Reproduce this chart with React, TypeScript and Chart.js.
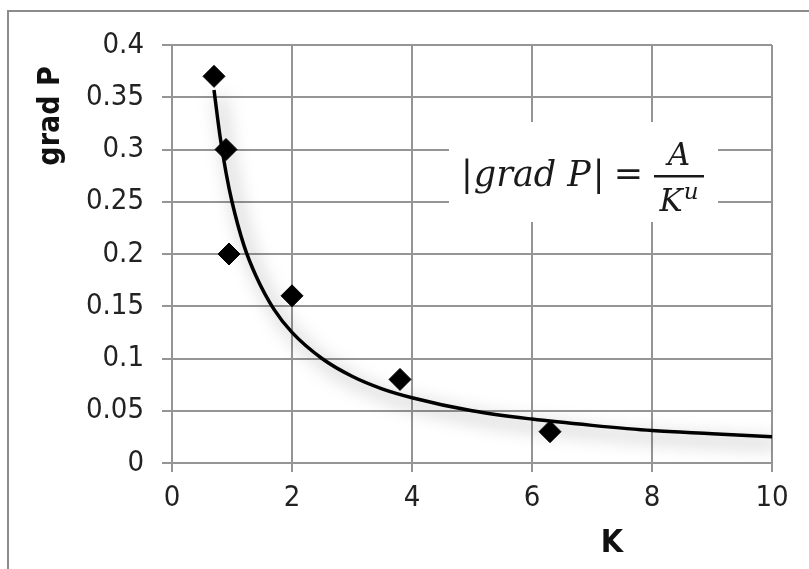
import React, { useEffect, useRef } from 'react';
import { Chart, registerables } from 'chart.js';

Chart.register(...registerables);

// Measured points (diamonds)
const measuredK = [0.7, 0.9, 0.95, 2.0, 3.8, 6.3];
const measuredP = [0.37, 0.3, 0.2, 0.16, 0.08, 0.03];

// Trend curve
const trendK = [0.7, 0.8, 0.9, 1.0, 1.2, 1.4, 1.7, 2.0, 2.5, 3.0, 3.5, 4, 5, 6, 7, 8, 9, 10];
const trendP = [0.357, 0.313, 0.278, 0.25, 0.208, 0.179, 0.147, 0.125, 0.1, 0.083, 0.071, 0.0625, 0.05, 0.042, 0.036, 0.031, 0.028, 0.025];

const xTicks = [0, 2, 4, 6, 8, 10];
const xTickLabels = ['0', '2', '4', '6', '8', '10'];
const yTicks = [0, 0.05, 0.1, 0.15, 0.2, 0.25, 0.3, 0.35, 0.4];
const yTickLabels = ['0', '0.05', '0.1', '0.15', '0.2', '0.25', '0.3', '0.35', '0.4'];

const xTitle = 'K';
const yTitle = 'grad P';

const TICK_FONT = "'DejaVu Sans Condensed', 'DejaVu Sans', sans-serif";
const GRID = '#959595';

const decorPlugin = {
  id: 'decor',
  beforeDatasetsDraw(chart: any) {
    const ctx = chart.ctx;
    const ca = chart.chartArea;
    // white box behind the equation
    const bx = ca.left + 277, by = ca.top + 77;
    ctx.save();
    ctx.fillStyle = '#ffffff';
    ctx.fillRect(bx, by, 269, 100);
    // equation
    ctx.fillStyle = '#1a1a1a';
    ctx.textBaseline = 'alphabetic';
    ctx.textAlign = 'left';
    const base = ca.top + 141;
    let x = ca.left + 289;
    const up = "35px 'DejaVu Serif', serif";
    const it = "italic 35px 'DejaVu Serif', serif";
    ctx.font = up; ctx.fillText('|', x, base); x += ctx.measureText('|').width + 1;
    ctx.font = it; ctx.fillText('grad P', x, base); x += ctx.measureText('grad P').width + 2;
    ctx.font = up; ctx.fillText('|', x, base); x += ctx.measureText('|').width + 9;
    ctx.fillText('=', x, base - 1); x += ctx.measureText('=').width + 11;
    // fraction
    const fx0 = x, fx1 = x + 50, fc = (fx0 + fx1) / 2;
    ctx.fillRect(fx0, ca.top + 130, fx1 - fx0, 2.5);
    ctx.font = "italic 31px 'DejaVu Serif', serif";
    ctx.textAlign = 'center';
    ctx.fillText('A', fc, ca.top + 120);
    const kw = ctx.measureText('K').width;
    ctx.font = "italic 23px 'DejaVu Serif', serif";
    const uw = ctx.measureText('u').width;
    const start = fc - (kw + uw + 1) / 2;
    ctx.textAlign = 'left';
    ctx.font = "italic 31px 'DejaVu Serif', serif";
    ctx.fillText('K', start, ca.top + 166);
    ctx.font = "italic 23px 'DejaVu Serif', serif";
    ctx.fillText('u', start + kw + 1, ca.top + 154);
    ctx.restore();
  },
  beforeDatasetDraw(chart: any, args: any) {
    if (args.index === 0) {
      const ctx = chart.ctx;
      ctx.save();
      ctx.shadowColor = 'rgba(0,0,0,0.5)';
      ctx.shadowBlur = 18;
      ctx.shadowOffsetX = 6;
      ctx.shadowOffsetY = 7;
    }
  },
  afterDatasetDraw(chart: any, args: any) {
    if (args.index === 0) chart.ctx.restore();
  },
  afterDraw(chart: any) {
    const ctx = chart.ctx;
    const ca = chart.chartArea;
    ctx.save();
    // outer frame (cropped on right and bottom)
    ctx.strokeStyle = '#8c8c8c';
    ctx.lineWidth = 2;
    ctx.beginPath();
    ctx.moveTo(8, chart.height + 2);
    ctx.lineTo(8, 11);
    ctx.lineTo(chart.width + 2, 11);
    ctx.stroke();
    // axis titles
    ctx.fillStyle = '#111';
    ctx.font = "bold 32px 'DejaVu Sans Condensed', 'DejaVu Sans', sans-serif";
    ctx.textAlign = 'center';
    ctx.textBaseline = 'middle';
    ctx.fillText(xTitle, ca.left + 440, ca.bottom + 81);
    ctx.font = "bold 30px 'DejaVu Sans Condensed', 'DejaVu Sans', sans-serif";
    ctx.translate(ca.left - 121, ca.top + 71);
    ctx.rotate(-Math.PI / 2);
    ctx.fillText(yTitle, 0, 0);
    ctx.restore();
  },
};

export default function App() {
  const ref = useRef<HTMLCanvasElement | null>(null);
  useEffect(() => {
    if (!ref.current) return;
    const chart = new Chart(ref.current, {
      type: 'scatter',
      data: {
        datasets: [
          {
            type: 'line',
            label: 'trend',
            data: trendK.map((k, i) => ({ x: k, y: trendP[i] })),
            borderColor: '#000',
            borderWidth: 3.5,
            pointRadius: 0,
            fill: false,
            cubicInterpolationMode: 'monotone',
            order: 2,
          } as any,
          {
            label: 'measured',
            data: measuredK.map((k, i) => ({ x: k, y: measuredP[i] })),
            pointStyle: 'rectRot',
            pointRadius: 11,
            pointBackgroundColor: '#000',
            pointBorderColor: '#000',
            pointBorderWidth: 1,
            order: 1,
          } as any,
        ],
      },
      options: {
        responsive: false,
        animation: false,
        layout: { padding: { left: 0, top: 45, right: 37, bottom: 0 } },
        plugins: { legend: { display: false }, tooltip: { enabled: false } },
        scales: {
          x: {
            type: 'linear',
            min: 0,
            max: 10,
            afterBuildTicks: (s: any) => { s.ticks = xTicks.map((v) => ({ value: v })); },
            afterFit: (s: any) => { s.height = 106; },
            ticks: {
              callback: (v: any) => xTickLabels[xTicks.indexOf(Number(v))] ?? '',
              font: { family: TICK_FONT, size: 29 },
              color: '#222',
              padding: 9,
              maxRotation: 0,
            },
            grid: { color: GRID, lineWidth: 2, tickLength: 9, drawTicks: true },
            border: { color: GRID, width: 2 },
          },
          y: {
            type: 'linear',
            min: 0,
            max: 0.4,
            afterBuildTicks: (s: any) => { s.ticks = yTicks.map((v) => ({ value: v })); },
            afterFit: (s: any) => { s.width = 172; },
            ticks: {
              callback: (v: any) => {
                const i = yTicks.findIndex((t) => Math.abs(t - Number(v)) < 1e-9);
                return i >= 0 ? yTickLabels[i] : '';
              },
              font: { family: TICK_FONT, size: 29 },
              color: '#222',
              padding: 18,
            },
            grid: { color: GRID, lineWidth: 2, tickLength: 10, drawTicks: true },
            border: { color: GRID, width: 2 },
          },
        },
      },
      plugins: [decorPlugin],
    });
    return () => chart.destroy();
  }, []);
  return (
    <div style={{ position: 'absolute', left: 0, top: 0, width: 809, height: 569, background: '#fff' }}>
      <canvas ref={ref} width={809} height={569} style={{ display: 'block' }} />
    </div>
  );
}
